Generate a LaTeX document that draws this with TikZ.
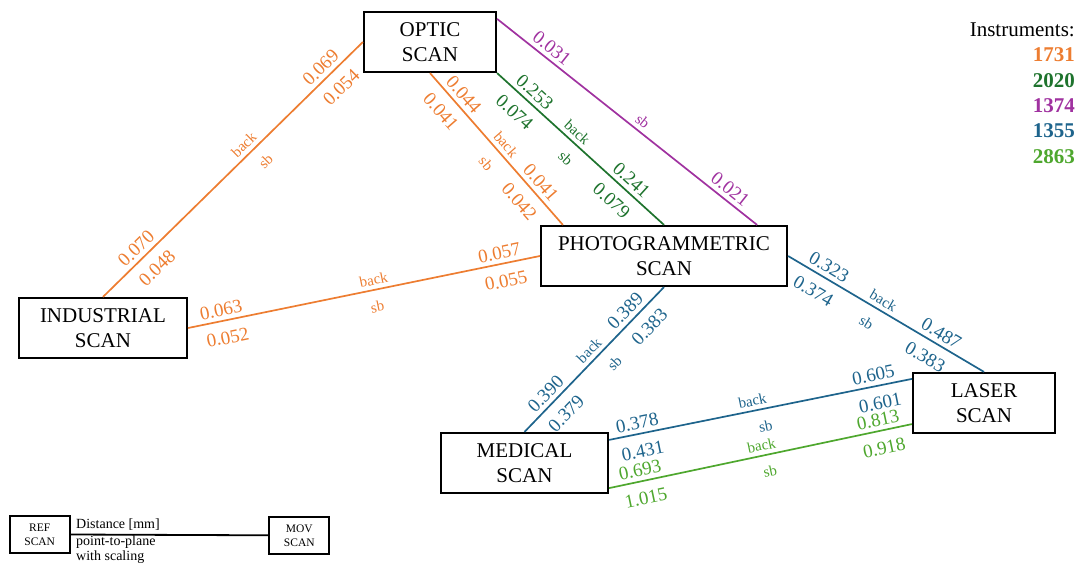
\documentclass[tikz,border=0pt]{standalone}
\usepackage{fontspec}
\setmainfont{Liberation Serif}
\usetikzlibrary{calc}

\definecolor{iOrange}{RGB}{237,125,49}
\definecolor{iDkGreen}{RGB}{30,115,45}
\definecolor{iPurple}{RGB}{160,50,160}
\definecolor{iBlue}{RGB}{30,100,140}
\definecolor{iLtGreen}{RGB}{78,167,46}

\begin{document}
\begin{tikzpicture}[x=1pt,y=-1pt,
  scanbox/.style={draw=black, line width=2.2pt, fill=white, minimum height=60pt,
    align=center, inner sep=0pt, font=\fontsize{21}{25.3}\selectfont},
  legbox/.style={draw=black, line width=1.8pt, fill=white, minimum width=60pt,
    minimum height=37pt, align=center, inner sep=0pt, font=\fontsize{11.5}{14}\selectfont},
  link/.style={line width=1.7pt},
  num/.style={font=\fontsize{19}{19}\selectfont, sloped, inner sep=0pt},
  numA/.style={num, above=4pt},
  numB/.style={num, below=10pt},
  tag/.style={font=\fontsize{15}{15}\selectfont, sloped, inner sep=0pt},
  tagA/.style={tag, above=4pt},
  tagB/.style={tag, below=11pt},
  legtxt/.style={font=\fontsize{14}{17}\selectfont, inner sep=0pt, anchor=base west},
  insttxt/.style={font=\fontsize{21}{25}\selectfont\bfseries, inner sep=0pt, anchor=base east}
]
\useasboundingbox (0,0) rectangle (1078,565);

% scan nodes
\node[scanbox, minimum width=132pt] (opt) at (430,42)    {OPTIC\\SCAN};
\node[scanbox, minimum width=246pt] (pho) at (664,256)   {PHOTOGRAMMETRIC\\SCAN};
\node[scanbox, minimum width=168pt] (ind) at (103,328)   {INDUSTRIAL\\SCAN};
\node[scanbox, minimum width=167pt] (med) at (524.5,463) {MEDICAL\\SCAN};
\node[scanbox, minimum width=142pt] (las) at (984,403)   {LASER\\SCAN};

% instrument 1731
\draw[link, iOrange] (ind.north) -- (opt.west)
  node[numA, pos=0.158] {0.070} node[numB, pos=0.161] {0.048}
  node[tagA, pos=0.569] {back}  node[tagB, pos=0.58]  {sb}
  node[numA, pos=0.868] {0.069} node[numB, pos=0.87]  {0.054};
\draw[link, iOrange] (ind.east) -- (pho.west)
  node[numA, pos=0.10]  {0.063} node[numB, pos=0.103] {0.052}
  node[tagA, pos=0.533] {back}  node[tagB, pos=0.528] {sb}
  node[numA, pos=0.891] {0.057} node[numB, pos=0.894] {0.055};
\draw[link, iOrange] (opt.south) -- ([xshift=23pt]pho.north west)
  node[numA, pos=0.19]  {0.044} node[numB, pos=0.18]  {0.041}
  node[tagA, pos=0.515] {back}  node[tagB, pos=0.52]  {sb}
  node[numA, pos=0.77]  {0.041} node[numB, pos=0.77]  {0.042};

% instrument 2020
\draw[link, iDkGreen] (opt.south east) -- (pho.north)
  node[numA, pos=0.18]  {0.253} node[numB, pos=0.174] {0.074}
  node[tagA, pos=0.44]  {back}  node[tagB, pos=0.48]  {sb}
  node[numA, pos=0.76]  {0.241} node[numB, pos=0.755] {0.079};

% instrument 1374
\draw[link, iPurple] ([yshift=-8pt]opt.north east) -- ([xshift=-31pt]pho.north east)
  node[numA, pos=0.184] {0.031}
  node[tagA, pos=0.536] {sb}
  node[numA, pos=0.87]  {0.021};

% instrument 1355
\draw[link, iBlue] (med.north) -- (pho.south)
  node[numA, pos=0.21]  {0.390} node[numB, pos=0.21]  {0.379}
  node[tagA, pos=0.515] {back}  node[tagB, pos=0.557] {sb}
  node[numA, pos=0.78]  {0.389} node[numB, pos=0.807] {0.383};
\draw[link, iBlue] (pho.east) -- (las.north)
  node[numA, pos=0.18]  {0.323} node[numB, pos=0.174] {0.374}
  node[tagA, pos=0.46]  {back}  node[tagB, pos=0.444] {sb}
  node[numA, pos=0.753] {0.487} node[numB, pos=0.745] {0.383};
\draw[link, iBlue] ([yshift=-8pt]med.north east) -- ([yshift=-7pt]las.north west)
  node[numA, pos=0.10]  {0.378} node[numB, pos=0.10]  {0.431}
  node[tagA, pos=0.48]  {back}  node[tagB, pos=0.506] {sb}
  node[numA, pos=0.88]  {0.605} node[numB, pos=0.884] {0.601};

% instrument 2863
\draw[link, iLtGreen] ([yshift=6pt]med.south east) -- ([yshift=10pt]las.south west)
  node[numA, pos=0.11]  {0.693} node[numB, pos=0.11]  {1.015}
  node[tagA, pos=0.51]  {back}  node[tagB, pos=0.52]  {sb}
  node[numA, pos=0.896] {0.813} node[numB, pos=0.897] {0.918};

% instrument list
\node[font=\fontsize{21}{25}\selectfont, inner sep=0pt, anchor=base east] (insthead) at (1075,36.7) {Instruments:};
\node[insttxt, text=iOrange]  (i1731) at (1075,61.7)  {1731};
\node[insttxt, text=iDkGreen] (i2020) at (1075,87.2)  {2020};
\node[insttxt, text=iPurple]  (i1374) at (1075,112.5) {1374};
\node[insttxt, text=iBlue]    (i1355) at (1075,137.8) {1355};
\node[insttxt, text=iLtGreen] (i2863) at (1075,163.1) {2863};

% key
\node[legbox] (ref) at (39.7,534.5) {REF\\SCAN};
\node[legbox] (mov) at (299.3,535.3) {MOV\\SCAN};
\draw[line width=1.8pt] (ref.east) -- (mov.west);
\node[legtxt] (kd) at (76,528.3) {Distance [mm]};
\node[legtxt] (kp) at (76,545)   {point-to-plane};
\node[legtxt] (ks) at (76,560.5) {with scaling};
\end{tikzpicture}
\end{document}
